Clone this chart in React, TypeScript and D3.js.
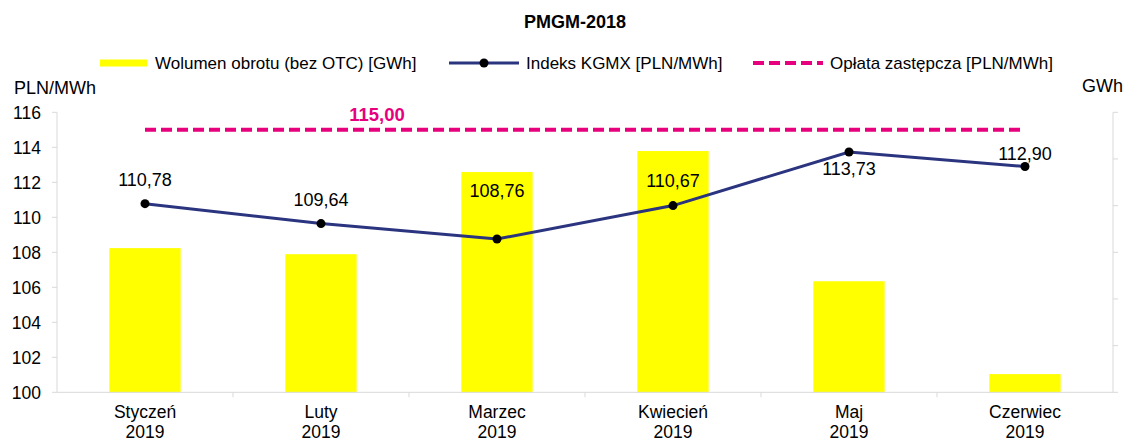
import React from "react";
import * as d3 from "d3";

const categories = ["Styczeń", "Luty", "Marzec", "Kwiecień", "Maj", "Czerwiec"];
const years = ["2019", "2019", "2019", "2019", "2019", "2019"];
const volumeGWh = [30.9, 29.6, 47.2, 51.7, 23.8, 3.9];
const kgmx = [110.78, 109.64, 108.76, 110.67, 113.73, 112.9];
const substituteFee = [115, 115, 115, 115, 115, 115];
const leftTicks = [100, 102, 104, 106, 108, 110, 112, 114, 116];
const rightTicks = [0, 10, 20, 30, 40, 50, 60];
// label baseline offset in px from the point (negative = above)
const labelOffsets = [-18, -18, -42, -19, 23, -7];

const W = 1129;
const H = 441;
const FONT = "Liberation Sans, Arial, sans-serif";

export default function App() {
  const left = 57;
  const right = 1113;
  const top = 112.3;
  const bottom = 392.3;

  const x = d3.scaleBand<string>().domain(categories).range([left, right]).paddingInner(0).paddingOuter(0);
  const yL = d3.scaleLinear().domain([100, 116]).range([bottom, top]);
  const yR = d3.scaleLinear().domain([0, 60]).range([bottom, top]);
  const bw = x.bandwidth() * 0.405;
  const cx = (c: string) => (x(c) as number) + x.bandwidth() / 2;

  const line = d3
    .line<number>()
    .x((_, i) => cx(categories[i]))
    .y((d) => yL(d));

  const fmt = (v: number) => v.toFixed(2).replace(".", ",");
  const axisColor = "#d9d9d9";

  return (
    <svg width={W} height={H} style={{ position: "absolute", left: 0, top: 0 }} fontFamily={FONT}>
      <rect width={W} height={H} fill="#fff" />
      <text x={575} y={28} textAnchor="middle" fontWeight="bold" fontSize={18}>PMGM-2018</text>

      {/* legend */}
      <rect x={100} y={59.5} width={47} height={7} fill="#ffff00" />
      <text x={155} y={69} fontSize={17}>Wolumen obrotu (bez OTC) [GWh]</text>
      <line x1={449} x2={519} y1={63} y2={63} stroke="#2b347f" strokeWidth={3} />
      <circle cx={484} cy={63} r={4.5} fill="#000" />
      <text x={526} y={69} fontSize={17}>Indeks KGMX [PLN/MWh]</text>
      <line x1={753} x2={823} y1={63} y2={63} stroke="#e6007e" strokeWidth={4} strokeDasharray="11,5" />
      <text x={830} y={69} fontSize={17}>Opłata zastępcza [PLN/MWh]</text>

      <text x={14} y={94} fontSize={18}>PLN/MWh</text>
      <text x={1082} y={92} fontSize={18}>GWh</text>

      {/* bars */}
      {volumeGWh.map((v, i) => (
        <rect key={i} x={cx(categories[i]) - bw / 2} y={yR(v)} width={bw} height={bottom - yR(v)} fill="#ffff00" />
      ))}

      {/* axes */}
      <line x1={left} x2={left} y1={top} y2={bottom} stroke={axisColor} />
      {leftTicks.map((t) => (
        <g key={t}>
          <line x1={left - 5} x2={left} y1={yL(t)} y2={yL(t)} stroke={axisColor} />
          <text x={41} y={yL(t) + 6.5} textAnchor="end" fontSize={17.5}>{t}</text>
        </g>
      ))}
      <line x1={right} x2={right} y1={top} y2={bottom} stroke={axisColor} />
      {rightTicks.map((t) => (
        <line key={t} x1={right} x2={right + 5} y1={yR(t)} y2={yR(t)} stroke={axisColor} />
      ))}
      <line x1={left} x2={right} y1={bottom} y2={bottom} stroke={axisColor} />
      {categories.map((c, i) => (
        <g key={c}>
          {i > 0 && <line x1={x(c)} x2={x(c)} y1={bottom} y2={bottom + 5} stroke={axisColor} />}
          <text x={cx(c)} y={418} textAnchor="middle" fontSize={17.5}>{c}</text>
          <text x={cx(c)} y={437.5} textAnchor="middle" fontSize={17.5}>{years[i]}</text>
        </g>
      ))}

      {/* substitute fee dashed */}
      <path d={line(substituteFee) as string} fill="none" stroke="#e6007e" strokeWidth={4} strokeDasharray="11,5" />
      <text x={377} y={121} textAnchor="middle" fontSize={18.5} fontWeight="bold" fill="#e6007e">{fmt(substituteFee[0])}</text>

      {/* KGMX line */}
      <path d={line(kgmx) as string} fill="none" stroke="#2b347f" strokeWidth={3} />
      {kgmx.map((v, i) => (
        <circle key={i} cx={cx(categories[i])} cy={yL(v)} r={4.5} fill="#000" />
      ))}
      {kgmx.map((v, i) => (
        <text key={i} x={cx(categories[i])} y={yL(v) + labelOffsets[i]} textAnchor="middle" fontSize={18}>{fmt(v)}</text>
      ))}
    </svg>
  );
}
